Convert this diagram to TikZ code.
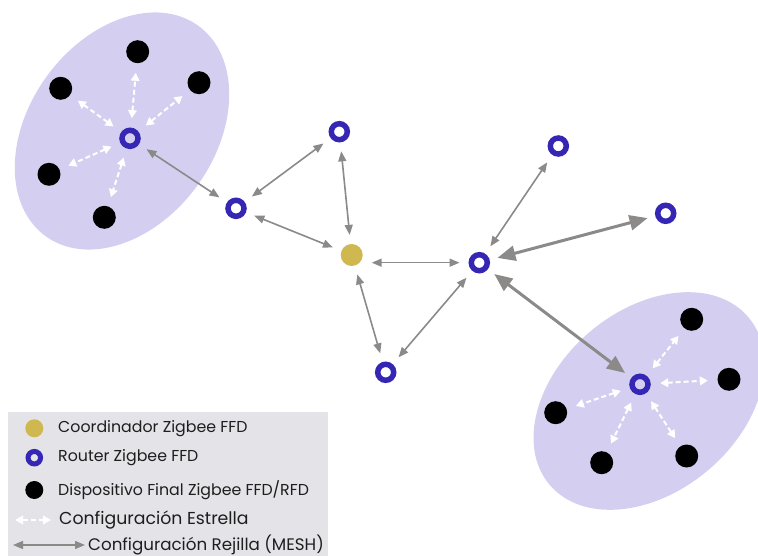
\documentclass[tikz,border=0pt]{standalone}
\usepackage{fontspec}
\setmainfont{Poppins}
\usetikzlibrary{arrows.meta}

\definecolor{clusterfill}{HTML}{D4CFF0}
\definecolor{routerblue}{HTML}{3526B4}
\definecolor{coordyellow}{HTML}{CFB850}
\definecolor{meshgray}{HTML}{8C8989}
\definecolor{legendbg}{HTML}{E4E3E8}
\definecolor{labeltext}{HTML}{1E1E1E}

\begin{document}
\begin{tikzpicture}[x=1pt,y=-1pt,
  router/.style={circle, draw=routerblue, line width=5.5pt, minimum size=16pt, inner sep=0pt},
  enddev/.style={circle, fill=black, minimum size=23pt, inner sep=0pt},
  coordnode/.style={circle, fill=coordyellow, minimum size=22pt, inner sep=0pt},
  mesh/.style={draw=meshgray, line width=1.6pt,
    {Triangle[length=10pt,width=8pt]}-{Triangle[length=10pt,width=8pt]},
    shorten <=9pt, shorten >=9pt},
  meshthick/.style={draw=meshgray, line width=3pt,
    {Triangle[length=18pt,width=15pt]}-{Triangle[length=18pt,width=15pt]},
    shorten <=8pt, shorten >=8pt},
  starlink/.style={draw=white, line width=2pt, dash pattern=on 5pt off 3pt,
    {Triangle[length=8pt,width=8.5pt]}-{Triangle[length=8pt,width=8.5pt]},
    shorten <=9.5pt, shorten >=9.5pt},
  lbl/.style={anchor=west, inner sep=0pt, text=labeltext, font=\fontsize{15.8}{18}\selectfont},
]
\useasboundingbox (0,0) rectangle (758,556);

% cluster backgrounds
\fill[clusterfill, rotate around={54:(122,131)}] (122,131) ellipse [x radius=130pt, y radius=93pt];
\fill[clusterfill, rotate around={40:(649,401)}] (649,401) ellipse [x radius=130pt, y radius=91pt];

% left star cluster
\node[router] (Lr) at (130,138.3) {};
\node[enddev] (La) at (137.7,51.7) {};
\node[enddev] (Lb) at (199,82.7) {};
\node[enddev] (Lc) at (60.7,88.3) {};
\node[enddev] (Ld) at (49,174.3) {};
\node[enddev] (Le) at (104.3,217.3) {};

% mesh routers and coordinator
\node[router] (R1) at (236,208.3) {};
\node[router] (R2) at (339.3,131.7) {};
\node[coordnode] (C) at (351.7,255) {};
\node[router] (R3) at (385.7,372.3) {};
\node[router] (R4) at (479.3,262.7) {};
\node[router] (R5) at (558.3,146) {};
\node[router] (R6) at (665.7,213.3) {};

% right star cluster
\node[router] (Rr) at (640,384.3) {};
\node[enddev] (Ra) at (691.7,319.3) {};
\node[enddev] (Rb) at (729,379.3) {};
\node[enddev] (Rc) at (555.7,412.7) {};
\node[enddev] (Rd) at (601.7,462.7) {};
\node[enddev] (Re) at (686.7,456) {};

% star links
\foreach \d in {La,Lb,Lc,Ld,Le} \draw[starlink] (Lr) -- (\d);
\foreach \d in {Ra,Rb,Rc,Rd,Re} \draw[starlink] (Rr) -- (\d);

% mesh links
\draw[mesh] (Lr) -- (R1);
\draw[mesh] (R1) -- (R2);
\draw[mesh] (R1) -- (C);
\draw[mesh] (R2) -- (C);
\draw[mesh, shorten <=20pt] (C |- R4) -- (R4);
\draw[mesh] (C) -- (R3);
\draw[mesh] (R3) -- (R4);
\draw[mesh] (R4) -- (R5);
\draw[meshthick] (R4) -- (R6);
\draw[meshthick] (R4) -- (Rr);

% legend
\fill[legendbg] (8,412) rectangle (328,556);
\node[coordnode, minimum size=18pt] (k1) at (34.3,428.3) {};
\node[lbl] (t1) at (58,428.3) {Coordinador Zigbee FFD};
\node[router, minimum size=12.5pt, line width=5pt] (k2) at (34.3,457.7) {};
\node[lbl] (t2) at (58,457.7) {Router Zigbee FFD};
\node[enddev, minimum size=18pt] (k3) at (34.3,490) {};
\node[lbl] (t3) at (58,490.5) {Dispositivo Final Zigbee FFD/RFD};
\coordinate (s1) at (15,520);
\coordinate (s2) at (51,520);
\draw[starlink, shorten <=0pt, shorten >=0pt] (s1) -- (s2);
\node[lbl, font=\fontsize{17.3}{20}\selectfont] (t4) at (59,520) {Configuración Estrella};
\coordinate (m1) at (13,545);
\coordinate (m2) at (85,545);
\draw[mesh, line width=1.4pt, shorten <=0pt, shorten >=0pt] (m1) -- (m2);
\node[lbl, font=\fontsize{16.7}{19}\selectfont] (t5) at (88,545) {Configuración Rejilla (MESH)};
\end{tikzpicture}
\end{document}
